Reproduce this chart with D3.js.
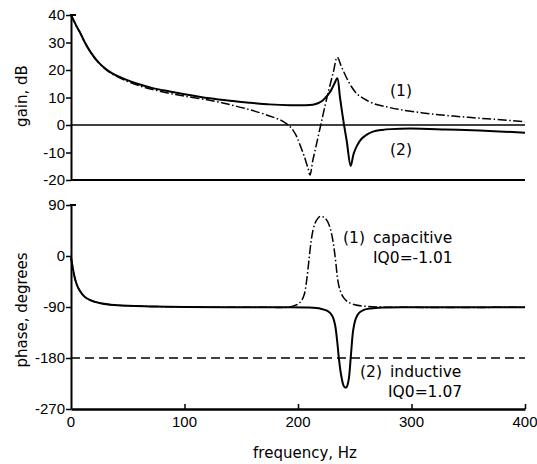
<!DOCTYPE html>
<meta charset="utf-8">
<style>
body { margin: 0; background: #fff; font-family: 'DejaVu Sans', sans-serif; }
text { fill: #000; }
.tick text, .num { font-family: 'Liberation Sans', sans-serif; font-size: 15px; }
.lbl { font-family: 'DejaVu Sans', sans-serif; font-size: 15px; }
.note { font-family: 'DejaVu Sans', sans-serif; font-size: 15.5px; }
.axis-line { stroke: #000; stroke-width: 2; fill: none; }
.curve { fill: none; stroke: #000; }
</style>
<body>
<script src="https://d3js.org/d3.v7.min.js"></script>
<script>
var width = 537,
    height = 464;

// tick values
var freqTicks = [0, 100, 200, 300, 400];
var gainTicks = [40, 30, 20, 10, 0, -10, -20];
var phaseTicks = [90, 0, -90, -180, -270];

// gain, dB  [frequency Hz, value]
var gainInductive = [[0,40],[2,38.3],[5,35.8],[8,33.6],[12,30.2],[17,26.7],[22,23.9],[28,21.3],[36,18.9],[49,16.4],[60,14.8],[72,13.4],[87,12.2],[100,11.2],[122,9.7],[140,8.8],[158,8.1],[175,7.5],[193,7.2],[205,7.2],[213,7.4],[218,8.0],[222,9.0],[226,10.8],[229,12.5],[232,15.0],[234.6,17],[237,10],[240,1.5],[243,-6],[246.4,-14.9],[249,-10.5],[252,-7.5],[256,-5],[261,-3.4],[266,-2.4],[274,-1.8],[282,-1.5],[299,-1.3],[330,-1.6],[360,-2.0],[400,-2.8]];
var gainCapacitive = [[0,40],[2,38.3],[5,35.8],[8,33.6],[12,30.2],[17,26.6],[22,23.7],[28,21.1],[36,18.6],[49,16.0],[60,14.3],[72,12.9],[87,11.5],[100,10.5],[122,9.0],[140,7.4],[158,5.5],[175,3.3],[186,1.5],[193,-0.6],[198,-3.5],[202,-7.5],[206,-12],[209,-16],[210.6,-18.2],[213,-13],[216,-7.5],[219.5,-1],[223,5.5],[227,12.5],[231,19],[234.6,24.6],[238,21.5],[243,17],[247,14],[252,11.3],[258,9.6],[266,7.9],[278,6.6],[290,5.6],[310,4.4],[330,3.5],[350,2.8],[372,2.1],[400,1.2]];

// phase, degrees
var phaseInductive = [[0,-3],[1.5,-20],[3.5,-40],[6,-55],[8,-62],[12,-72],[17,-78],[25,-83],[35,-86],[50,-88],[70,-89],[100,-90],[175,-90.5],[210,-91],[220,-93],[226,-97],[230,-105],[232.5,-120],[234.5,-150],[236,-180],[238,-210],[240.5,-230],[242.5,-232],[244.5,-220],[246.5,-178],[248.7,-130],[251,-110],[254,-100],[258,-95],[264,-92.5],[275,-91],[300,-90.5],[400,-90.5]];
var phaseCapacitive = [[0,-3],[1.5,-20],[3.5,-40],[6,-55],[8,-62],[12,-72],[17,-78],[25,-83],[35,-86],[50,-88],[70,-89],[100,-90],[175,-90.5],[190,-90.5],[196,-88],[200,-85],[203,-79],[205.5,-68],[207.5,-45],[209.5,-10],[211.5,25],[213.5,48],[216,62],[219.5,70],[223,68],[226,61],[228.5,48],[230.5,30],[232,10],[233.5,-15],[235,-42],[237,-60],[240,-73],[244,-81],[250,-86],[258,-88.5],[270,-90],[400,-90.5]];

var svg = d3.select("body").append("svg")
    .attr("width", width)
    .attr("height", height);

var x = d3.scaleLinear().domain([0, 400]).range([71, 525]);
var yGain = d3.scaleLinear().domain([-20, 40]).range([180, 15]);
var yPhase = d3.scaleLinear().domain([-270, 90]).range([409, 205]);

function leftAxis(scale, ticks) {
  var g = svg.append("g")
    .attr("transform", "translate(" + x(0) + ",0)")
    .call(d3.axisLeft(scale).tickValues(ticks).tickSize(5).tickSizeOuter(0).tickFormat(d => String(d)).tickPadding(1));
  g.select(".domain").attr("stroke-width", 2);
  g.selectAll(".tick line").attr("stroke-width", 1.5);
  g.selectAll(".tick text").attr("fill", "#000");
  // little cap at the top of the axis
  g.append("line").attr("class", "axis-line")
    .attr("x1", -1).attr("x2", 5)
    .attr("y1", scale(ticks[0])).attr("y2", scale(ticks[0]));
  return g;
}

// ----- gain panel
leftAxis(yGain, gainTicks);

svg.append("line").attr("class", "axis-line")
  .attr("x1", x(0)).attr("x2", x(400))
  .attr("y1", yGain(-20)).attr("y2", yGain(-20))
  .attr("stroke-width", 2.5);
svg.append("line")
  .attr("x1", x(0)).attr("x2", x(400))
  .attr("y1", yGain(0)).attr("y2", yGain(0))
  .attr("stroke", "#000").attr("stroke-width", 1.5);

var gainLine = d3.line()
  .x(d => x(d[0]))
  .y(d => yGain(d[1]))
  .curve(d3.curveCatmullRom.alpha(0.5));

svg.append("path").attr("class", "curve")
  .attr("d", gainLine(gainCapacitive))
  .attr("stroke-width", 1.5)
  .attr("stroke-dasharray", "9,2.5,1.5,2.5");
svg.append("path").attr("class", "curve")
  .attr("d", gainLine(gainInductive))
  .attr("stroke-width", 2);

svg.append("text").attr("class", "lbl")
  .attr("transform", "translate(27,96) rotate(-90)")
  .attr("text-anchor", "middle")
  .text("gain, dB");

svg.append("text").attr("class", "note").attr("x", 390).attr("y", 96).text("(1)");
svg.append("text").attr("class", "note").attr("x", 390).attr("y", 155).text("(2)");

// ----- phase panel
leftAxis(yPhase, phaseTicks);

svg.append("g")
  .attr("transform", "translate(0," + yPhase(-270) + ")")
  .call(d3.axisTop(x).tickValues(freqTicks.slice(1)).tickSize(5).tickSizeOuter(0).tickFormat(""))
  .call(g => g.select(".domain").attr("stroke-width", 2.5))
  .call(g => g.selectAll(".tick line").attr("stroke-width", 1.5));

svg.append("g").selectAll("text")
  .data(freqTicks)
  .join("text")
    .attr("class", "num")
    .attr("x", d => x(d))
    .attr("y", 427)
    .attr("text-anchor", "middle")
    .text(d => d);

svg.append("line")
  .attr("x1", x(0)).attr("x2", x(400))
  .attr("y1", yPhase(-180)).attr("y2", yPhase(-180))
  .attr("stroke", "#000").attr("stroke-width", 1.5)
  .attr("stroke-dasharray", "9,5");

var phaseLine = d3.line()
  .x(d => x(d[0]))
  .y(d => yPhase(d[1]))
  .curve(d3.curveCatmullRom.alpha(0.5));

svg.append("path").attr("class", "curve")
  .attr("d", phaseLine(phaseCapacitive))
  .attr("stroke-width", 1.5)
  .attr("stroke-dasharray", "9,2.5,1.5,2.5");
svg.append("path").attr("class", "curve")
  .attr("d", phaseLine(phaseInductive))
  .attr("stroke-width", 2);

svg.append("text").attr("class", "lbl")
  .attr("transform", "translate(27,310) rotate(-90)")
  .attr("text-anchor", "middle")
  .text("phase, degrees");

svg.append("text").attr("class", "note").attr("x", 343).attr("y", 243).text("(1)");
svg.append("text").attr("class", "note").attr("x", 373).attr("y", 243).text("capacitive");
svg.append("text").attr("class", "note").attr("x", 373).attr("y", 263).text("IQ0=-1.01");
svg.append("text").attr("class", "note").attr("x", 360).attr("y", 377).text("(2)");
svg.append("text").attr("class", "note").attr("x", 390).attr("y", 377).text("inductive");
svg.append("text").attr("class", "note").attr("x", 388).attr("y", 397).text("IQ0=1.07");

svg.append("text").attr("class", "lbl")
  .attr("x", 305).attr("y", 458)
  .attr("text-anchor", "middle")
  .text("frequency, Hz");
</script>
